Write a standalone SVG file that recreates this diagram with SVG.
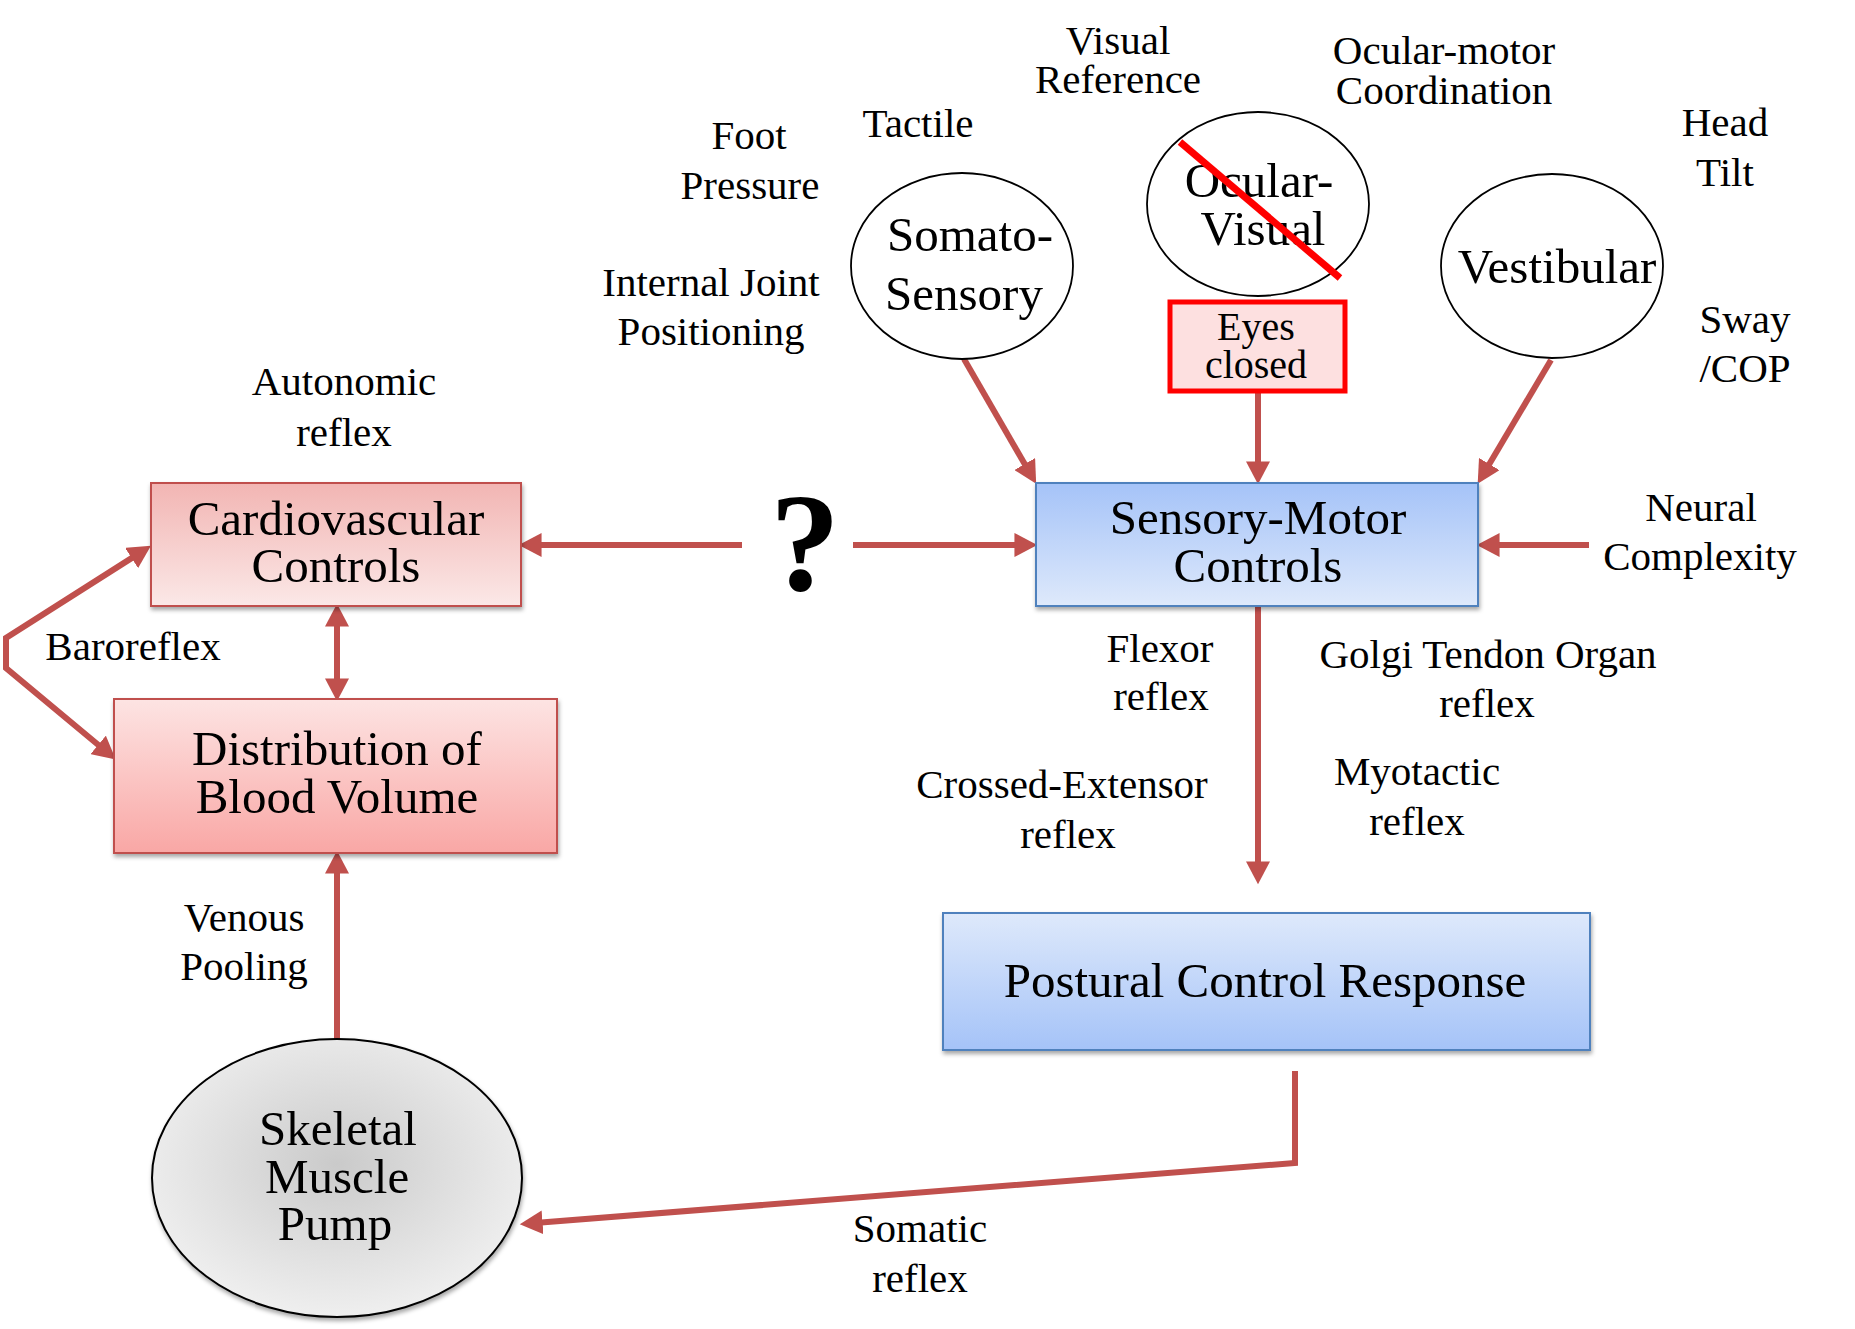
<svg xmlns="http://www.w3.org/2000/svg" width="1855" height="1329" viewBox="0 0 1855 1329">
<style>
text{font-family:"Liberation Serif","Times New Roman",serif;fill:#000;text-anchor:middle}
.s{font-size:41px}
.b{font-size:49px}
.e{font-size:40px}
.conn{fill:none;stroke:#C0504D;stroke-width:6;stroke-linejoin:miter}
.ell{fill:#fff;stroke:#000;stroke-width:1.8}
</style>
<defs>
<marker id="arr" markerUnits="userSpaceOnUse" markerWidth="24" markerHeight="24" refX="4" refY="10.5" orient="auto-start-reverse" viewBox="0 0 21 21">
<path d="M0,0 L20,10.5 L0,21 z" fill="#C0504D"/>
</marker>
<linearGradient id="gCV" x1="0" y1="0" x2="0" y2="1"><stop offset="0" stop-color="#F2B5B3"/><stop offset="1" stop-color="#FBE8E7"/></linearGradient>
<linearGradient id="gDist" x1="0" y1="0" x2="0" y2="1"><stop offset="0" stop-color="#FDE4E3"/><stop offset="1" stop-color="#F9A7A5"/></linearGradient>
<linearGradient id="gSM" x1="0" y1="0" x2="0" y2="1"><stop offset="0" stop-color="#A5C3F8"/><stop offset="1" stop-color="#DEE9FB"/></linearGradient>
<linearGradient id="gPCR" x1="0" y1="0" x2="0" y2="1"><stop offset="0" stop-color="#DEE9FB"/><stop offset="1" stop-color="#A5C3F8"/></linearGradient>
<radialGradient id="gPump" cx="0.5" cy="0.45" r="0.55"><stop offset="0" stop-color="#CACACA"/><stop offset="1" stop-color="#EFEFEF"/></radialGradient>
<filter id="sh" x="-10%" y="-10%" width="120%" height="130%"><feDropShadow dx="1" dy="3" stdDeviation="2" flood-color="#000" flood-opacity="0.35"/></filter>
</defs>
<rect width="1855" height="1329" fill="#fff"/>

<g id="connectors">
<path class="conn" d="M742,545 L537,545" marker-end="url(#arr)"/>
<path class="conn" d="M853,545 L1019,545" marker-end="url(#arr)"/>
<path class="conn" d="M964,359 L1027,468" marker-end="url(#arr)"/>
<path class="conn" d="M1258,393 L1258,466" marker-end="url(#arr)"/>
<path class="conn" d="M1551,360 L1487,468" marker-end="url(#arr)"/>
<path class="conn" d="M1589,545 L1495,545" marker-end="url(#arr)"/>
<path class="conn" d="M1258,606 L1258,866" marker-end="url(#arr)"/>
<path class="conn" d="M337,622 L337,683" marker-start="url(#arr)" marker-end="url(#arr)"/>
<path class="conn" d="M337,1039 L337,869" marker-end="url(#arr)"/>
<path class="conn" d="M135.5,555.6 L6,638 L6,668 L101.7,747.8" marker-start="url(#arr)" marker-end="url(#arr)"/>
<path class="conn" d="M1295,1071 L1295,1163 L538,1222.7" marker-end="url(#arr)"/>
</g>

<g id="cardiovascular">
<rect x="151" y="483" width="370" height="123" fill="url(#gCV)" stroke="#C0504D" stroke-width="2" filter="url(#sh)"/>
<text class="b" x="336" y="535">Cardiovascular</text>
<text class="b" x="336" y="582">Controls</text>
</g>

<g id="distribution">
<rect x="114" y="699" width="443" height="154" fill="url(#gDist)" stroke="#C0504D" stroke-width="2" filter="url(#sh)"/>
<text class="b" x="337" y="765">Distribution of</text>
<text class="b" x="337" y="813">Blood Volume</text>
</g>

<g id="pump">
<ellipse cx="337" cy="1178" rx="185" ry="139" fill="url(#gPump)" stroke="#000" stroke-width="2" filter="url(#sh)"/>
<text class="b" x="338" y="1145">Skeletal</text>
<text class="b" x="337" y="1193">Muscle</text>
<text class="b" x="335" y="1240">Pump</text>
</g>

<g id="sensory-motor">
<rect x="1036" y="483" width="442" height="123" fill="url(#gSM)" stroke="#4F81BD" stroke-width="2" filter="url(#sh)"/>
<text class="b" x="1258" y="534">Sensory-Motor</text>
<text class="b" x="1258" y="582">Controls</text>
</g>

<g id="postural">
<rect x="943" y="913" width="647" height="137" fill="url(#gPCR)" stroke="#4F81BD" stroke-width="2" filter="url(#sh)"/>
<text class="b" x="1265" y="997">Postural Control Response</text>
</g>

<g id="somato">
<ellipse class="ell" cx="962" cy="266" rx="111" ry="93"/>
<text class="b" x="970" y="251">Somato-</text>
<text class="b" x="964" y="310">Sensory</text>
</g>

<g id="ocular">
<ellipse class="ell" cx="1258" cy="204" rx="111" ry="92"/>
<text class="b" x="1259" y="197">Ocular-</text>
<text class="b" x="1263" y="245">Visual</text>
<line x1="1180" y1="142" x2="1340" y2="278" stroke="#FF0000" stroke-width="7"/>
</g>

<g id="eyes-closed">
<rect x="1170" y="302" width="175" height="89" fill="#FDE0E0" stroke="#FF0000" stroke-width="5"/>
<text class="e" x="1256" y="340">Eyes</text>
<text class="e" x="1256" y="378">closed</text>
</g>

<g id="vestibular">
<ellipse class="ell" cx="1552" cy="266" rx="111" ry="92"/>
<text class="b" x="1557" y="283">Vestibular</text>
</g>

<g id="question">
<text x="805" y="590" style="font-size:140px;font-weight:bold">?</text>
</g>

<g id="labels">
<text class="s" x="1118" y="54">Visual</text>
<text class="s" x="1118" y="93">Reference</text>
<text class="s" x="1444" y="64">Ocular-motor</text>
<text class="s" x="1444" y="104">Coordination</text>
<text class="s" x="1725" y="136">Head</text>
<text class="s" x="1725" y="186">Tilt</text>
<text class="s" x="1745" y="333">Sway</text>
<text class="s" x="1745" y="382">/COP</text>
<text class="s" x="749" y="149">Foot</text>
<text class="s" x="750" y="199">Pressure</text>
<text class="s" x="918" y="137">Tactile</text>
<text class="s" x="711" y="296">Internal Joint</text>
<text class="s" x="711" y="345">Positioning</text>
<text class="s" x="344" y="395">Autonomic</text>
<text class="s" x="344" y="446">reflex</text>
<text class="s" x="133" y="660">Baroreflex</text>
<text class="s" x="244" y="931">Venous</text>
<text class="s" x="244" y="980">Pooling</text>
<text class="s" x="1160" y="662">Flexor</text>
<text class="s" x="1161" y="710">reflex</text>
<text class="s" x="1062" y="798">Crossed-Extensor</text>
<text class="s" x="1068" y="848">reflex</text>
<text class="s" x="1488" y="668">Golgi Tendon Organ</text>
<text class="s" x="1487" y="717">reflex</text>
<text class="s" x="1417" y="785">Myotactic</text>
<text class="s" x="1417" y="835">reflex</text>
<text class="s" x="1701" y="521">Neural</text>
<text class="s" x="1700" y="570">Complexity</text>
<text class="s" x="920" y="1242">Somatic</text>
<text class="s" x="920" y="1292">reflex</text>
</g>
</svg>
